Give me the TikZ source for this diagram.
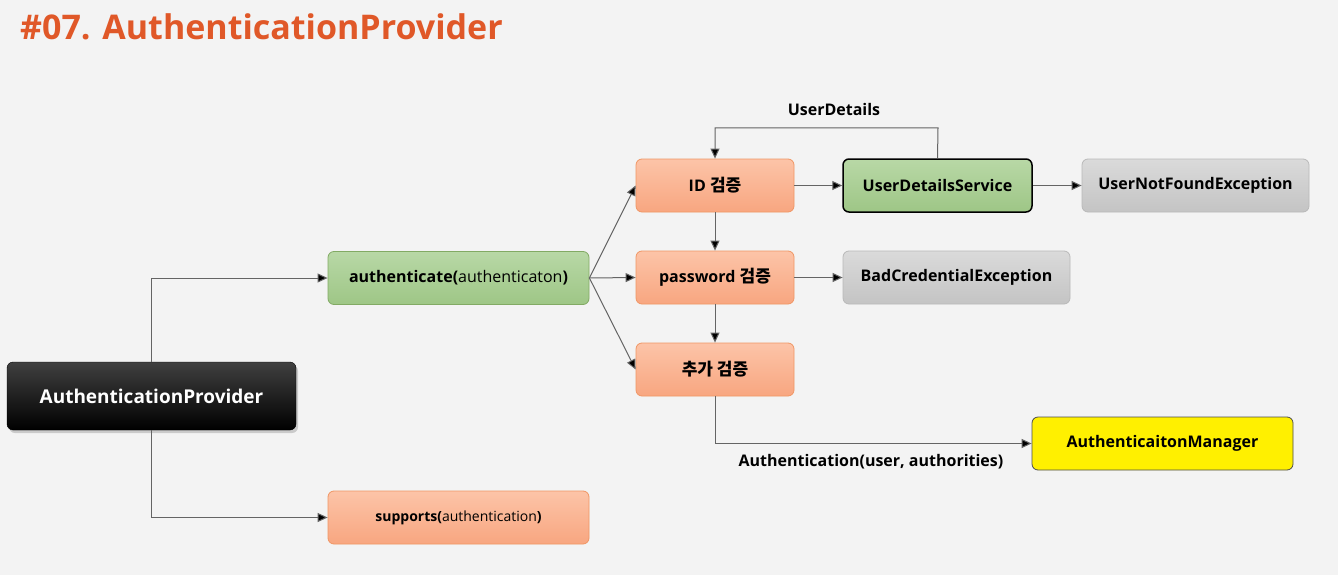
\documentclass[tikz,border=0pt]{standalone}
\usepackage{fontspec}
\setmainfont{Open Sans}
\newfontfamily\kr{Noto Sans CJK KR}[BoldFont={Noto Sans CJK KR Black}]
\usetikzlibrary{arrows.meta,shadows}
\definecolor{bgc}{RGB}{243,243,243}
\definecolor{titlec}{RGB}{224,88,40}
\definecolor{linec}{RGB}{100,100,100}
\definecolor{orT}{RGB}{252,196,168}
\definecolor{orB}{RGB}{248,166,128}
\definecolor{orD}{RGB}{240,150,100}
\definecolor{grT}{RGB}{184,216,166}
\definecolor{grB}{RGB}{158,198,134}
\definecolor{grD}{RGB}{130,170,100}
\definecolor{gyT}{RGB}{218,218,218}
\definecolor{gyB}{RGB}{196,196,196}
\definecolor{gyD}{RGB}{185,185,185}
\definecolor{yel}{RGB}{255,240,0}
\newcommand{\kw}[1]{{\kr\bfseries\fontsize{17}{20}\selectfont #1}}
\tikzset{
  box/.style={rectangle, rounded corners=6pt, minimum height=53pt, align=center,
    font=\bfseries\fontsize{16}{19}\selectfont, text=black},
  orbox/.style={box, draw=orD, top color=orT, bottom color=orB, line width=0.8pt},
  grbox/.style={box, draw=grD, top color=grT, bottom color=grB, line width=0.8pt},
  gybox/.style={box, draw=gyD, top color=gyT, bottom color=gyB, line width=0.8pt},
  arr/.style={draw=linec, line width=1pt, -{Triangle[length=10pt,width=9pt,fill=black]}},
  lbl/.style={font=\bfseries\fontsize{16}{19}\selectfont, text=black},
}
\begin{document}
\begin{tikzpicture}[x=1pt,y=-1pt]
\fill[bgc] (0,0) rectangle (1338,575);
\useasboundingbox (0,0) rectangle (1338,575);
\node[anchor=base west, text=titlec, font=\bfseries\fontsize{34}{40}\selectfont, inner sep=0] (title) at (20,40) {\#07. AuthenticationProvider};

\node[box, minimum width=289pt, minimum height=68pt, draw=black, top color=black!75, bottom color=black, text=white,
  font=\bfseries\fontsize{19}{22}\selectfont, drop shadow={opacity=0.35, shadow xshift=2pt, shadow yshift=-3pt}] (ap) at (151.5,396) {AuthenticationProvider};

\node[grbox, minimum width=261pt] (auth) at (458.5,278) {authenticate(\mdseries authenticaton\bfseries)};
\node[orbox, minimum width=261pt, font=\bfseries\fontsize{14}{17}\selectfont] (sup) at (458.5,517.5) {supports(\mdseries authentication\bfseries)};

\node[orbox, minimum width=158pt] (id) at (715,185.5) {ID \kw{검증}};
\node[orbox, minimum width=158pt] (pw) at (715,277.5) {password \kw{검증}};
\node[orbox, minimum width=158pt] (add) at (715,369.5) {\kw{추가 검증}};

\node[grbox, minimum width=189pt, draw=black, line width=1.5pt] (uds) at (937.5,185.5) {UserDetailsService};
\node[gybox, minimum width=227pt] (unfe) at (1195.5,185.5) {UserNotFoundException};
\node[gybox, minimum width=227pt] (bce) at (956.5,277.5) {BadCredentialException};
\node[box, minimum width=261pt, draw=black!70, fill=yel, line width=0.8pt] (am) at (1162.5,443.5) {AuthenticaitonManager};

\draw[arr] (ap.north) |- (auth.west);
\draw[arr] (ap.south) |- (sup.west);
\draw[arr] (auth.east) -- (id.west);
\draw[arr] (auth.east) -- (pw.west);
\draw[arr] (auth.east) -- (add.west);
\draw[arr] (id) -- (uds);
\draw[arr] (uds) -- (unfe);
\draw[arr] (id) -- (pw);
\draw[arr] (pw) -- (add);
\draw[arr] (pw) -- (bce);
\coordinate (loopr) at (938,128);
\draw[arr] (uds.north) -- (loopr) -| (id.north);
\node[lbl] (udl) at (834,110) {UserDetails};
\draw[arr] (add.south) |- (am.west);
\node[lbl] (authl) at (871,462) {Authentication(user, authorities)};
\end{tikzpicture}
\end{document}
